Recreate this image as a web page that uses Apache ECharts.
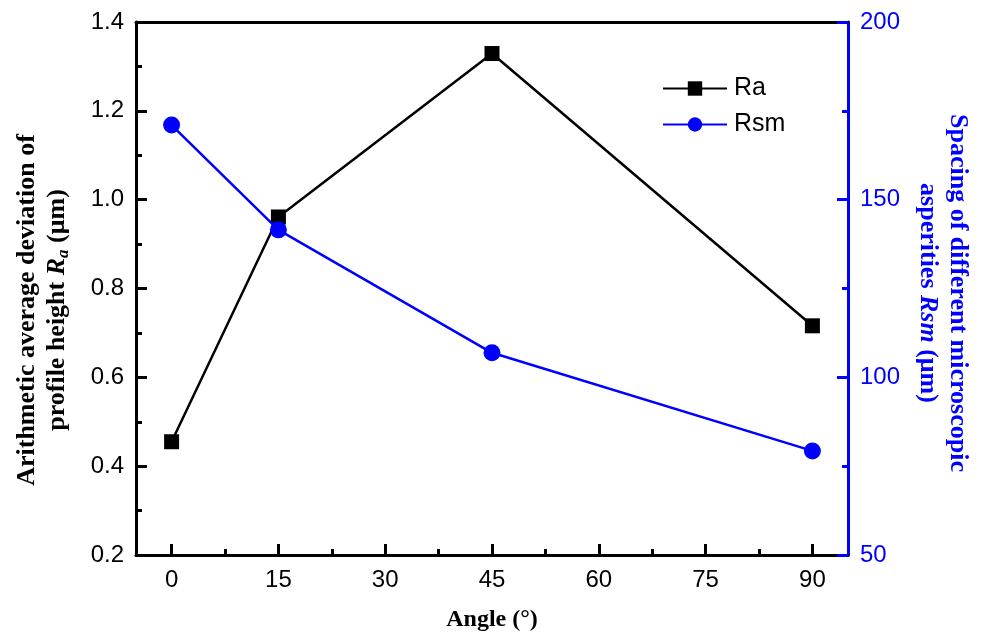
<!DOCTYPE html>
<html>
<head>
<meta charset="utf-8">
<script src="https://cdn.jsdelivr.net/npm/echarts@6/dist/echarts.min.js"></script>
<style>html,body{margin:0;padding:0;background:#fff}#c{width:986px;height:638px}</style>
</head>
<body>
<div id="c"></div>
<script>
const angles = [0, 15, 45, 90];
const raValues = [0.455, 0.961, 1.329, 0.716];
const rsmValues = [171.0, 141.5, 106.9, 79.3];
const xMajorTicks = [0, 15, 30, 45, 60, 75, 90];
const xMinorTicks = [7.5, 22.5, 37.5, 52.5, 67.5, 82.5];

const chart = echarts.init(document.getElementById('c'));
const sans = 'Liberation Sans, Arial, sans-serif';
const serif = 'Liberation Serif, Times New Roman, serif';
const blue = '#0000FF';

const xBase = {
  type: 'value', min: -5, max: 95, splitLine: {show: false}
};

chart.setOption({
  animation: false,
  backgroundColor: '#fff',
  grid: {left: 136, right: 138, top: 22, bottom: 83},
  legend: {
    left: 662, top: 76, padding: 0, orient: 'vertical', itemWidth: 64, itemHeight: 18, itemGap: 11,
    textStyle: {fontFamily: sans, fontSize: 25, color: '#000', padding: [0, 0, 0, 2]},
    data: ['Ra', 'Rsm']
  },
  xAxis: [
    Object.assign({}, xBase, {
      position: 'bottom',
      axisLine: {show: true, onZero: false, lineStyle: {color: '#000', width: 3}},
      axisTick: {show: true, inside: true, length: 11, lineStyle: {width: 3, color: '#000'}, customValues: xMajorTicks},
      axisLabel: {fontFamily: sans, fontSize: 24, color: '#000', margin: 13, customValues: xMajorTicks},
      name: 'Angle (°)', nameLocation: 'middle', nameGap: 53,
      nameTextStyle: {fontFamily: serif, fontWeight: 'bold', fontSize: 24, color: '#000'}
    }),
    Object.assign({}, xBase, {
      position: 'top',
      axisLine: {show: true, onZero: false, lineStyle: {color: '#000', width: 3}},
      axisTick: {show: false}, axisLabel: {show: false}
    }),
    Object.assign({}, xBase, {
      position: 'bottom',
      axisLine: {show: false, onZero: false},
      axisTick: {show: true, inside: true, length: 6, lineStyle: {width: 3, color: '#000'}, customValues: xMinorTicks},
      axisLabel: {show: false}
    })
  ],
  yAxis: [
    {
      type: 'value', min: 0.2, max: 1.4, interval: 0.2, position: 'left',
      splitLine: {show: false},
      axisLine: {show: true, onZero: false, lineStyle: {color: '#000', width: 3}},
      axisTick: {show: true, inside: true, length: 11, lineStyle: {width: 3, color: '#000'}},
      minorTick: {show: true, splitNumber: 2, length: 6, lineStyle: {width: 3, color: '#000'}},
      axisLabel: {fontFamily: sans, fontSize: 24, color: '#000', margin: 12, formatter: v => v.toFixed(1)}
    },
    {
      type: 'value', min: 50, max: 200, interval: 50, position: 'right',
      splitLine: {show: false},
      axisLine: {show: true, onZero: false, lineStyle: {color: blue, width: 3}},
      axisTick: {show: true, inside: true, length: 11, lineStyle: {width: 3, color: blue}},
      minorTick: {show: true, splitNumber: 2, length: 6, lineStyle: {width: 3, color: blue}},
      axisLabel: {fontFamily: sans, fontSize: 24, color: blue, margin: 12}
    }
  ],
  series: [
    {
      name: 'Ra', type: 'line', xAxisIndex: 0, yAxisIndex: 0,
      data: angles.map((a, i) => [a, raValues[i]]),
      symbol: 'rect', symbolSize: 15,
      lineStyle: {color: '#000', width: 2.5},
      itemStyle: {color: '#000'}, z: 3
    },
    {
      name: 'Rsm', type: 'line', xAxisIndex: 0, yAxisIndex: 1,
      data: angles.map((a, i) => [a, rsmValues[i]]),
      symbol: 'circle', symbolSize: 17,
      lineStyle: {color: blue, width: 2.5},
      itemStyle: {color: blue}, z: 4
    }
  ],
  graphic: [
    {
      type: 'text', x: 42, y: 310, rotation: Math.PI / 2,
      style: {
        text: 'Arithmetic average deviation of\n{n|profile height }{i|R}{s|a}{n| (μm)}',
        fontFamily: serif, fontWeight: 'bold', fontSize: 26, fill: '#000',
        align: 'center', verticalAlign: 'middle', lineHeight: 30,
        rich: {
          n: {fontFamily: serif, fontWeight: 'bold', fontSize: 26, fill: '#000', lineHeight: 30},
          i: {fontFamily: serif, fontWeight: 'bold', fontStyle: 'italic', fontSize: 26, fill: '#000', lineHeight: 30},
          s: {fontFamily: serif, fontWeight: 'bold', fontStyle: 'italic', fontSize: 17, fill: '#000', verticalAlign: 'bottom', lineHeight: 30, padding: [9, 0, 0, 0]}
        }
      }
    },
    {
      type: 'text', x: 943, y: 293, rotation: -Math.PI / 2,
      style: {
        text: 'Spacing of different microscopic\n{n|asperities }{i|Rsm}{n| (μm)}',
        fontFamily: serif, fontWeight: 'bold', fontSize: 26, fill: blue,
        align: 'center', verticalAlign: 'middle', lineHeight: 30,
        rich: {
          n: {fontFamily: serif, fontWeight: 'bold', fontSize: 26, fill: blue, lineHeight: 30},
          i: {fontFamily: serif, fontWeight: 'bold', fontStyle: 'italic', fontSize: 26, fill: blue, lineHeight: 30}
        }
      }
    }
  ]
});
</script>
</body>
</html>
